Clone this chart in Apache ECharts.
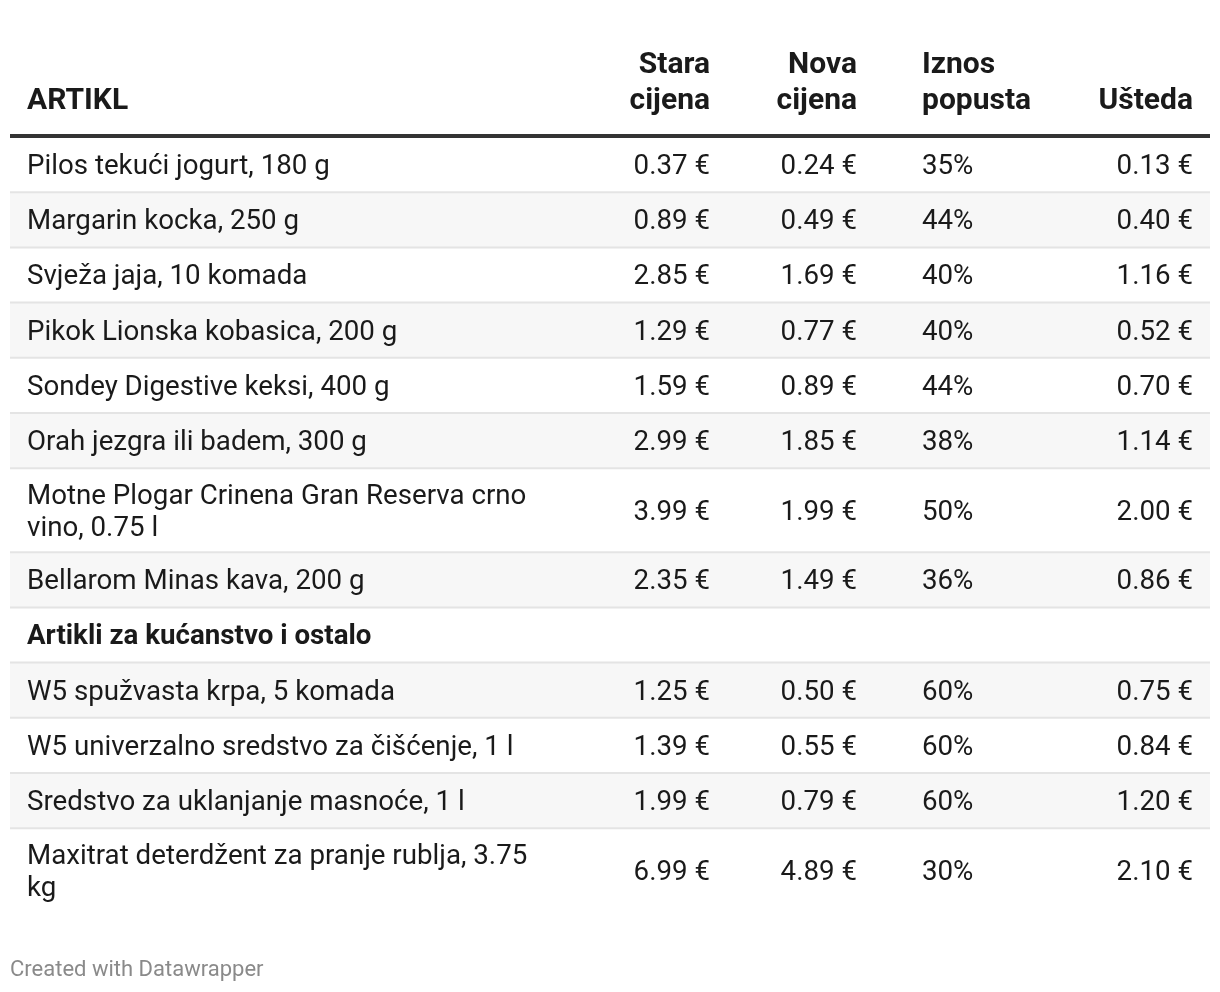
<!DOCTYPE html>
<html lang="hr">
<head>
    <meta charset="UTF-8" />
    <title>Artikli na popustu</title>
    <script src="https://cdn.jsdelivr.net/npm/echarts@6/dist/echarts.min.js"></script>
    <style>
        html, body { margin: 0; padding: 0; background: #fff; }
        #main { width: 1220px; height: 992px; }
    </style>
</head>
<body>
<div id="main"></div>
<script type="text/javascript">
    // podaci
    var zaglavlja = ['ARTIKL', 'Stara\ncijena', 'Nova\ncijena', 'Iznos\npopusta', 'Ušteda'];
    var artikli = [
        'Pilos tekući jogurt, 180 g',
        'Margarin kocka, 250 g',
        'Svježa jaja, 10 komada',
        'Pikok Lionska kobasica, 200 g',
        'Sondey Digestive keksi, 400 g',
        'Orah jezgra ili badem, 300 g',
        'Motne Plogar Crinena Gran Reserva crno vino, 0.75 l',
        'Bellarom Minas kava, 200 g',
        'Artikli za kućanstvo i ostalo',
        'W5 spužvasta krpa, 5 komada',
        'W5 univerzalno sredstvo za čišćenje, 1 l',
        'Sredstvo za uklanjanje masnoće, 1 l',
        'Maxitrat deterdžent za pranje rublja, 3.75 kg'
    ];
    var staraCijena = [0.37, 0.89, 2.85, 1.29, 1.59, 2.99, 3.99, 2.35, null, 1.25, 1.39, 1.99, 6.99];
    var novaCijena  = [0.24, 0.49, 1.69, 0.77, 0.89, 1.85, 1.99, 1.49, null, 0.50, 0.55, 0.79, 4.89];
    var popust      = [35, 44, 40, 40, 44, 38, 50, 36, null, 60, 60, 60, 30];
    var usteda      = [0.13, 0.40, 1.16, 0.52, 0.70, 1.14, 2.00, 0.86, null, 0.75, 0.84, 1.20, 2.10];

    // izgled
    var FONT = 'Roboto, "Noto Sans", sans-serif';
    var VEL = 27.7;       // tijelo
    var VEL_ZAG = 30;     // zaglavlje
    var stupci = [
        { x: 27, align: 'left' },
        { x: 710, align: 'right' },
        { x: 857, align: 'right' },
        { x: 922, align: 'left' },
        { x: 1193, align: 'right' }
    ];
    var sirinaArtikla = 520;

    var ctx = document.createElement('canvas').getContext('2d');
    function prelomi(tekst, bold) {
        ctx.font = (bold ? 'bold ' : '') + VEL + 'px ' + FONT;
        var rijeci = tekst.split(' '), redovi = [], red = '';
        rijeci.forEach(function (r) {
            var probni = red ? red + ' ' + r : r;
            if (red && ctx.measureText(probni).width > sirinaArtikla) {
                redovi.push(red);
                red = r;
            } else {
                red = probni;
            }
        });
        redovi.push(red);
        return redovi;
    }

    function cijena(v) { return v.toFixed(2) + ' €'; }

    // redovi tablice
    var redovi = [];
    var y = 137;
    artikli.forEach(function (a, i) {
        var sekcija = staraCijena[i] == null;
        var linije = prelomi(a, sekcija);
        var h = 26.4 + 28.8 * linije.length;
        redovi.push([i, y, h]);
        y += h;
    });

    function tekst(x, y, t, align, bold, vel, vAlign, lh) {
        return {
            type: 'text',
            style: {
                x: x, y: y, text: t,
                fill: '#1a1a1a',
                font: (bold ? 'bold ' : '') + vel + 'px ' + FONT,
                align: align,
                verticalAlign: vAlign || 'middle',
                lineHeight: lh || 32
            }
        };
    }

    var chart = echarts.init(document.getElementById('main'));
    chart.setOption({
        animation: false,
        title: {
            text: 'Created with Datawrapper',
            left: 10,
            top: 959,
            padding: 0,
            textStyle: { fontSize: 22, fontWeight: 'normal', color: '#8a8a8a', fontFamily: FONT }
        },
        grid: { left: 0, right: 0, top: 0, bottom: 0 },
        xAxis: { type: 'value', min: 0, max: 1220, show: false },
        yAxis: { type: 'value', min: 0, max: 992, inverse: true, show: false },
        series: [{
            // zaglavlje
            type: 'custom',
            silent: true,
            clip: false,
            data: [[0, 119]],
            renderItem: function (params, api) {
                var djeca = zaglavlja.map(function (z, k) {
                    var p = api.coord([stupci[k].x, api.value(1)]);
                    return tekst(p[0], p[1], z, stupci[k].align, true, VEL_ZAG, 'bottom', 36);
                });
                var a = api.coord([10, 136]), b = api.coord([1210, 136]);
                djeca.push({
                    type: 'line',
                    shape: { x1: a[0], y1: a[1], x2: b[0], y2: b[1] },
                    style: { stroke: '#333333', lineWidth: 4 }
                });
                return { type: 'group', children: djeca };
            }
        }, {
            // tijelo tablice
            type: 'custom',
            silent: true,
            clip: false,
            data: redovi,
            renderItem: function (params, api) {
                var i = api.value(0);
                var vrh = api.value(1), h = api.value(2);
                var a = api.coord([10, vrh]), b = api.coord([1210, vrh + h]);
                var sredina = (a[1] + b[1]) / 2 + 2.5;
                var djeca = [];
                if (i % 2 === 1) {
                    djeca.push({
                        type: 'rect',
                        shape: { x: a[0], y: a[1], width: b[0] - a[0], height: b[1] - a[1] },
                        style: { fill: '#f7f7f7' }
                    });
                }
                if (i > 0) {
                    djeca.push({
                        type: 'line',
                        shape: { x1: a[0], y1: a[1], x2: b[0], y2: a[1] },
                        style: { stroke: '#e4e4e4', lineWidth: 2 }
                    });
                }
                var sekcija = staraCijena[i] == null;
                var x0 = api.coord([stupci[0].x, 0])[0];
                djeca.push(tekst(x0, sredina, prelomi(artikli[i], sekcija).join('\n'), 'left', sekcija, VEL));
                if (!sekcija) {
                    var vrijednosti = [cijena(staraCijena[i]), cijena(novaCijena[i]), popust[i] + '%', cijena(usteda[i])];
                    vrijednosti.forEach(function (v, k) {
                        var s = stupci[k + 1];
                        djeca.push(tekst(api.coord([s.x, 0])[0], sredina, v, s.align, false, VEL));
                    });
                }
                return { type: 'group', children: djeca };
            }
        }]
    });
</script>
</body>
</html>
